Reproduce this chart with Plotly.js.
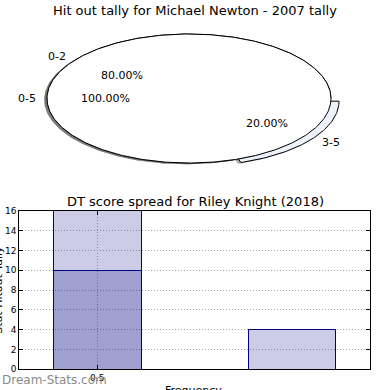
<!DOCTYPE html>
<html>
<head>
<meta charset="utf-8">
<script src="https://cdn.plot.ly/plotly-3.0.1.min.js"></script>
<style>html,body{margin:0;padding:0;background:#fff;}#chart{width:390px;height:390px;}</style>
</head>
<body>
<div id="chart"></div>
<script>
// ---- Pie (top) data ----
const pieALabels = ['0-2', '3-5'];
const pieAValues = [80, 20];
const pieAExplode = [0, 0.07];
const pieAColors = ['#ffffff', '#edf2fc'];
const pieBLabels = ['0-5'];
const pieBValues = [100];
const pieBExplode = [0];
const pieBColors = ['#ffffff'];

// ---- Bar (bottom) data ----
const barX = [0.5, 1.5];
const barDark = [10, null];
const barLight = [6, 4];
const xTickVals = [0.5];
const xTickText = ['0.5'];
const yTickVals = [0, 2, 4, 6, 8, 10, 12, 14, 16];
const xTitle = 'Frequency';
const yTitle = 'Stat Hitout Tally';

const F = 'DejaVu Sans, Liberation Sans, sans-serif';
const traces = [];
const pieAnnotations = [];

function pieTraces(labels, values, explode, colors) {
  const total = values.reduce((a, b) => a + b, 0);
  let start = 0;
  const shadows = [], wedges = [];
  labels.forEach((lab, i) => {
    const frac = values[i] / total;
    const t1 = start, t2 = start + 360 * frac;
    start = t2;
    const mid = (t1 + t2) / 2 * Math.PI / 180;
    const cx = explode[i] * Math.cos(mid), cy = explode[i] * Math.sin(mid);
    const full = Math.abs(t2 - t1 - 360) < 1e-9;
    const xs = [], ys = [];
    if (!full) { xs.push(cx); ys.push(cy); }
    for (let a = t1; a <= t2 + 1e-9; a += 1) {
      const r = a * Math.PI / 180;
      xs.push(cx + Math.cos(r)); ys.push(cy + Math.sin(r));
    }
    if (!full) { xs.push(cx); ys.push(cy); }
    shadows.push({type: 'scatter', mode: 'lines', x: xs.map(v => v - 0.02), y: ys.map(v => v - 0.02),
      xaxis: 'x2', yaxis: 'y2', fill: 'toself', fillcolor: 'rgba(77,77,77,0.5)',
      line: {width: 0, color: 'rgba(0,0,0,0)'}, hoverinfo: 'skip'});
    wedges.push({type: 'scatter', mode: 'lines', x: xs, y: ys, xaxis: 'x2', yaxis: 'y2',
      fill: 'toself', fillcolor: colors[i], line: {width: 1, color: '#000000'}, hoverinfo: 'skip'});
    const lx = cx + 1.1 * Math.cos(mid), ly = cy + 1.1 * Math.sin(mid);
    pieAnnotations.push({xref: 'x2', yref: 'y2', x: lx, y: ly, text: lab, showarrow: false, borderpad: 0,
      xanchor: lx > 0 ? 'left' : 'right', xshift: lx > 0 ? -2 : 4, yanchor: 'middle',
      font: {family: F, size: 11, color: '#000'}});
    const px = cx + 0.6 * Math.cos(mid), py = cy + 0.6 * Math.sin(mid);
    pieAnnotations.push({xref: 'x2', yref: 'y2', x: px, y: py, text: (frac * 100).toFixed(2) + '%', showarrow: false,
      borderpad: 0, xshift: 1.5, xanchor: 'center', yanchor: 'middle', font: {family: F, size: 11, color: '#000'}});
  });
  return {shadows, wedges};
}

const pA = pieTraces(pieALabels, pieAValues, pieAExplode, pieAColors);
const pB = pieTraces(pieBLabels, pieBValues, pieBExplode, pieBColors);
pA.shadows.forEach((s, i) => { traces.push(s); traces.push(pA.wedges[i]); });
pB.shadows.forEach((s, i) => { traces.push(s); traces.push(pB.wedges[i]); });

traces.push({type: 'bar', x: barX, y: barDark, width: 0.45, xaxis: 'x', yaxis: 'y',
  marker: {color: 'rgba(0,0,128,0.373)', line: {color: '#000080', width: 1}}, hoverinfo: 'skip'});
traces.push({type: 'bar', x: barX, y: barLight, width: 0.45, xaxis: 'x', yaxis: 'y',
  marker: {color: 'rgba(0,0,128,0.2)', line: {color: '#000080', width: 1}}, hoverinfo: 'skip'});

const gridDash = '1px,2px';
const layout = {
  width: 390, height: 390,
  margin: {l: 0, r: 0, t: 0, b: 0},
  paper_bgcolor: '#ffffff', plot_bgcolor: 'rgba(0,0,0,0)',
  showlegend: false, barmode: 'stack',
  font: {family: F, color: '#000'},
  xaxis2: {domain: [0.0477, 0.9215], range: [-1.2, 1.2], visible: false, fixedrange: true},
  yaxis2: {domain: [0.5324, 0.9624], range: [-1.3, 1.3], visible: false, fixedrange: true},
  xaxis: {domain: [0.0495, 0.9487], range: [0.1, 1.9], anchor: 'y',
    tickvals: xTickVals, ticktext: xTickText, ticks: 'inside', ticklen: 4, tickcolor: '#000',
    showline: true, linecolor: '#000', linewidth: 1, mirror: 'ticks',
    showgrid: true, gridcolor: '#a8a8a8', griddash: gridDash, gridwidth: 1,
    zeroline: false, tickfont: {family: F, size: 9, color: '#000'}, automargin: false},
  yaxis: {domain: [0.0531, 0.4597], range: [0, 16], anchor: 'x',
    tickvals: yTickVals, ticks: 'inside', ticklen: 4, tickcolor: '#000',
    showline: true, linecolor: '#000', linewidth: 1, mirror: 'ticks',
    showgrid: true, gridcolor: '#a8a8a8', griddash: gridDash, gridwidth: 1,
    zeroline: false, tickfont: {family: F, size: 9, color: '#000'}, automargin: false},
  annotations: [
    {text: 'Hit out tally for Michael Newton - 2007 tally', xref: 'paper', yref: 'paper', x: 0.5, y: (390 - 10) / 390,
      xanchor: 'center', yanchor: 'middle', showarrow: false, font: {family: F, size: 13, color: '#000'}},
    {text: 'DT score spread for Riley Knight (2018)', xref: 'paper', yref: 'paper', x: 0.5, y: (390 - 202) / 390,
      xanchor: 'center', yanchor: 'middle', showarrow: false, font: {family: F, size: 13, color: '#000'}},
    {text: xTitle, xref: 'paper', yref: 'paper', x: 0.497, y: (390 - 383) / 390,
      xanchor: 'center', yanchor: 'top', showarrow: false, borderpad: 0, font: {family: F, size: 11, color: '#000'}},
    {text: yTitle, xref: 'paper', yref: 'paper', x: -0.006, y: 0.2564, textangle: -90,
      xanchor: 'center', yanchor: 'middle', showarrow: false, borderpad: 0, font: {family: F, size: 11, color: '#000'}},
    {text: 'Dream-Stats.com', xref: 'paper', yref: 'paper', x: 0, y: (390 - 380) / 390,
      xanchor: 'left', yanchor: 'middle', showarrow: false, font: {family: F, size: 12, color: '#8a8a8a'}}
  ].concat(pieAnnotations)
};

Plotly.newPlot('chart', traces, layout, {staticPlot: true, displayModeBar: false});
</script>
</body>
</html>
